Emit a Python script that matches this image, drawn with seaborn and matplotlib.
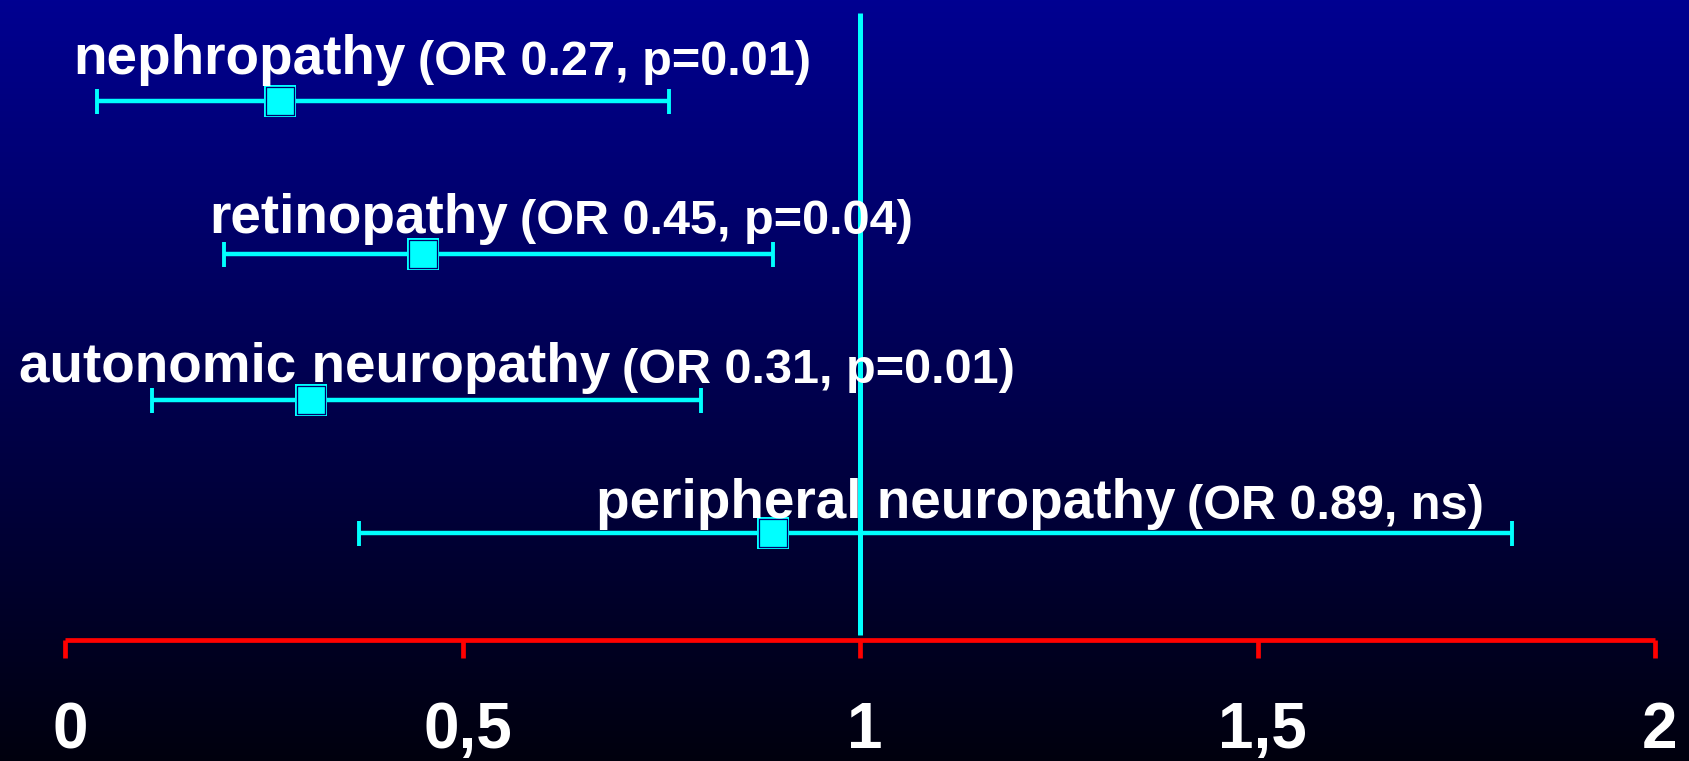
import numpy as np
import matplotlib
matplotlib.use("Agg")
import matplotlib.pyplot as plt
import matplotlib.transforms as mtransforms
import seaborn as sns

# Odds ratios with 95% confidence intervals per complication
complications = ["nephropathy", "retinopathy", "autonomic neuropathy", "peripheral neuropathy"]
odds_ratio = [0.27, 0.45, 0.31, 0.89]
ci_low = [0.04, 0.20, 0.11, 0.37]
ci_high = [0.76, 0.89, 0.80, 1.82]
p_text = ["p=0.01", "p=0.04", "p=0.01", "ns"]
tick_values = [0, 0.5, 1, 1.5, 2]
tick_labels = ["0", "0,5", "1", "1,5", "2"]

# Layout: canvas in pixels, rows measured from the top edge
W, H = 1689, 761
row_y = [101, 254, 400, 533]
name_x = [0.011, 0.182, -0.058, 0.668]
name_base = [74, 233, 382, 518]
axis_y = 640
ref_top, ref_bottom = 13, 635
x_origin_px, px_per_unit = 65, 795

CYAN = "#00FFFF"
RED = "#FF0000"

sns.set_theme(style="white")
plt.rcParams["font.family"] = ["Liberation Sans", "DejaVu Sans"]

fig = plt.figure(figsize=(W / 100, H / 100), dpi=100)

# vertical navy-to-black gradient behind everything
bg = fig.add_axes([0, 0, 1, 1])
top = np.array([0, 0, 145]) / 255
bot = np.array([0, 0, 14]) / 255
t = np.linspace(0, 1, 512)[:, None]
grad = (top + (bot - top) * t)[:, None, :]
bg.imshow(grad, extent=[0, 1, 0, 1], aspect="auto", origin="upper")
bg.set_axis_off()

ax = fig.add_axes([0, 0, 1, 1])
ax.patch.set_alpha(0)

# reference line at OR = 1
ax.vlines(1, ref_top, ref_bottom, color=CYAN, lw=3.6, zorder=2)

# confidence intervals
or_arr = np.array(odds_ratio)
xerr = [or_arr - np.array(ci_low), np.array(ci_high) - or_arr]
ax.errorbar(odds_ratio, row_y, xerr=xerr, fmt="none", ecolor=CYAN,
            elinewidth=3.2, capsize=9, capthick=2.8, zorder=3)

# point estimates: cyan square with a thin dark inner outline
sns.scatterplot(x=odds_ratio, y=row_y, marker="s", s=23.5 ** 2, color=CYAN,
                linewidth=0, ax=ax, zorder=4)
sns.scatterplot(x=odds_ratio, y=row_y, marker="s", s=19.5 ** 2, color=CYAN,
                edgecolor="#00006A", linewidth=0.9, ax=ax, zorder=5)

# labels: complication name followed by the smaller OR / p text
for name, orv, pt, lx, by in zip(complications, odds_ratio, p_text, name_x, name_base):
    nt = ax.text(lx, by, name, color="white", fontsize=39.5, fontweight="bold",
                 ha="left", va="baseline", zorder=6)
    ax.annotate(f"(OR {orv:.2f}, {pt})", xy=(1, 0), xycoords=nt,
                xytext=(8.5, 1), textcoords="offset points",
                color="white", fontsize=35, fontweight="bold",
                ha="left", va="bottom", zorder=6)

# red x-axis
ax.set_xlim(-x_origin_px / px_per_unit, (W - x_origin_px) / px_per_unit)
ax.set_ylim(H, 0)
for side in ["top", "left", "right"]:
    ax.spines[side].set_visible(False)
sp = ax.spines["bottom"]
sp.set_position(("data", axis_y))
sp.set_bounds(0, 2)
sp.set_color(RED)
sp.set_linewidth(3.4)
sp.set_capstyle("butt")
ax.set_yticks([])
ax.set_xticks(tick_values, tick_labels)
ax.tick_params(axis="x", direction="out", length=13, width=3.4, color=RED,
               pad=31, labelsize=46, labelcolor="white", bottom=True)
shift = mtransforms.ScaledTranslation(5 / 100, 0, fig.dpi_scale_trans)
for lab in ax.get_xticklabels():
    lab.set_fontweight("bold")
    lab.set_transform(lab.get_transform() + shift)
ax.grid(False)

fig.savefig("out.png", dpi=100)
